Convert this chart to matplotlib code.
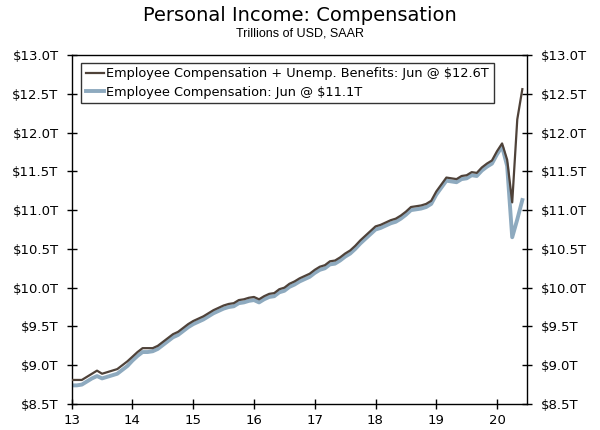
import matplotlib
matplotlib.use('Agg')
import matplotlib.pyplot as plt
import numpy as np

# Monthly values, Jan 2013 - Jun 2020, trillions of USD (SAAR)
start_year = 2013
comp_plus_ui = [
    8.81, 8.81, 8.81, 8.85, 8.89, 8.93, 8.89, 8.91, 8.93, 8.95, 9.00, 9.05,
    9.11, 9.17, 9.22, 9.22, 9.22, 9.25, 9.30, 9.35, 9.40, 9.43, 9.48, 9.53,
    9.57, 9.60, 9.63, 9.67, 9.71, 9.74, 9.77, 9.79, 9.80, 9.84, 9.85, 9.87,
    9.88, 9.85, 9.89, 9.92, 9.93, 9.98, 10.00, 10.05, 10.08, 10.12, 10.15, 10.18,
    10.23, 10.27, 10.29, 10.34, 10.35, 10.39, 10.44, 10.48, 10.54, 10.61, 10.67, 10.73,
    10.79, 10.81, 10.84, 10.87, 10.89, 10.93, 10.98, 11.04, 11.05, 11.06, 11.08, 11.12,
    11.24, 11.33, 11.42, 11.41, 11.40, 11.44, 11.45, 11.49, 11.48, 11.55, 11.60, 11.64,
    11.76, 11.86, 11.65, 11.10, 12.17, 12.56,
]
comp = [
    8.74, 8.74, 8.75, 8.79, 8.83, 8.86, 8.83, 8.85, 8.87, 8.89, 8.94, 8.99,
    9.06, 9.12, 9.17, 9.17, 9.18, 9.21, 9.26, 9.31, 9.36, 9.39, 9.44, 9.49,
    9.53, 9.56, 9.59, 9.63, 9.67, 9.70, 9.73, 9.75, 9.76, 9.80, 9.81, 9.83,
    9.84, 9.81, 9.85, 9.88, 9.89, 9.94, 9.96, 10.01, 10.04, 10.08, 10.11, 10.14,
    10.19, 10.23, 10.25, 10.30, 10.31, 10.35, 10.40, 10.44, 10.50, 10.57, 10.63, 10.69,
    10.75, 10.77, 10.80, 10.83, 10.85, 10.89, 10.94, 11.00, 11.01, 11.02, 11.04, 11.08,
    11.20, 11.29, 11.38, 11.37, 11.36, 11.40, 11.41, 11.45, 11.44, 11.51, 11.56, 11.60,
    11.72, 11.82, 11.57, 10.65, 10.88, 11.13,
]
year_ticks = [2013, 2014, 2015, 2016, 2017, 2018, 2019, 2020]
year_labels = ['13', '14', '15', '16', '17', '18', '19', '20']
y_ticks = [8.5, 9.0, 9.5, 10.0, 10.5, 11.0, 11.5, 12.0, 12.5, 13.0]

label_dark = 'Employee Compensation + Unemp. Benefits: Jun @ $12.6T'
label_light = 'Employee Compensation: Jun @ $11.1T'

x = start_year + np.arange(len(comp_plus_ui)) / 12.0

fig = plt.figure(figsize=(6, 4.3), dpi=100)
ax = fig.add_axes([0.1195, 0.0605, 0.7595, 0.8115])

ax.plot(x, comp, color='#8eaabf', lw=2.8, label=label_light, zorder=2)
ax.plot(x, comp_plus_ui, color='#4f4239', lw=1.6, label=label_dark, zorder=3)

ax.set_xlim(2013, 2020.5)
ax.set_ylim(8.5, 13.0)
ax.set_xticks(year_ticks)
ax.set_xticklabels(year_labels)
ax.set_yticks(y_ticks)
ax.set_yticklabels(['$%.1fT' % v for v in y_ticks])

ax.tick_params(axis='both', direction='inout', length=7, width=1, labelsize=9.5, colors='black')
ax.tick_params(axis='y', right=True, labelright=True, pad=6)
ax.tick_params(axis='x', pad=4)
for s in ax.spines.values():
    s.set_linewidth(1.0)

handles, labels = ax.get_legend_handles_labels()
leg = ax.legend(handles[::-1], labels[::-1], loc='upper left', bbox_to_anchor=(0.015, 0.985),
                fontsize=9.3, frameon=True, fancybox=False, handlelength=1.4,
                handletextpad=0.2, borderpad=0.35, labelspacing=0.4, borderaxespad=0.2)
leg.get_frame().set_edgecolor('black')
leg.get_frame().set_linewidth(1.0)

fig.text(0.5, 0.965, 'Personal Income: Compensation', ha='center', va='center', fontsize=14)
fig.text(0.5, 0.922, 'Trillions of USD, SAAR', ha='center', va='center', fontsize=9,
         family='Liberation Sans')

fig.savefig('out.png', dpi=100)
